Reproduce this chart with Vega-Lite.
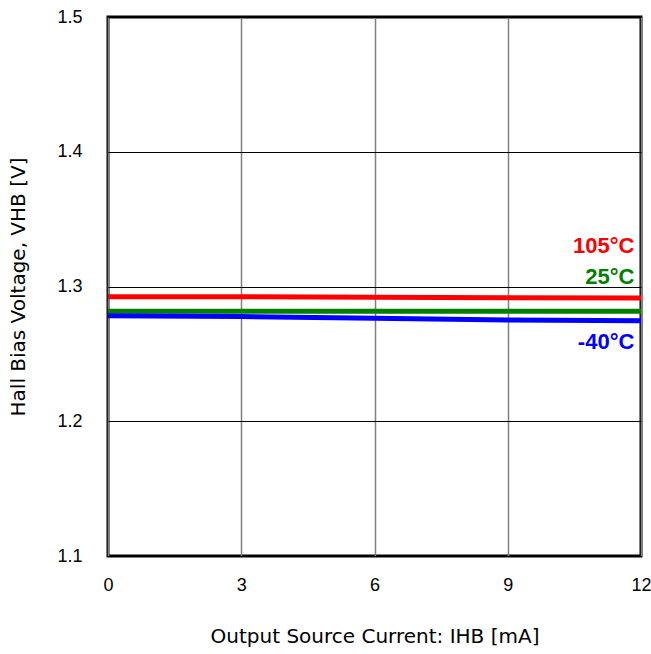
{
  "$schema": "https://vega.github.io/schema/vega-lite/v6.json",
  "autosize": "none",
  "padding": {"left": 108, "top": 17, "right": 10, "bottom": 98},
  "width": 533,
  "height": 539,
  "background": "white",
  "datasets": {
    "curves": [
      {"current": 0, "voltage": 1.2924, "temp": "105°C"},
      {"current": 3, "voltage": 1.2924, "temp": "105°C"},
      {"current": 6, "voltage": 1.2920, "temp": "105°C"},
      {"current": 9, "voltage": 1.2916, "temp": "105°C"},
      {"current": 12, "voltage": 1.2915, "temp": "105°C"},
      {"current": 0, "voltage": 1.2817, "temp": "25°C"},
      {"current": 3, "voltage": 1.2817, "temp": "25°C"},
      {"current": 6, "voltage": 1.2816, "temp": "25°C"},
      {"current": 9, "voltage": 1.2816, "temp": "25°C"},
      {"current": 12, "voltage": 1.2816, "temp": "25°C"},
      {"current": 0, "voltage": 1.2783, "temp": "-40°C"},
      {"current": 3, "voltage": 1.2777, "temp": "-40°C"},
      {"current": 6, "voltage": 1.2764, "temp": "-40°C"},
      {"current": 9, "voltage": 1.2751, "temp": "-40°C"},
      {"current": 12, "voltage": 1.2746, "temp": "-40°C"}
    ],
    "labels": [
      {"current": 11.85, "voltage": 1.330, "temp": "105°C"},
      {"current": 11.85, "voltage": 1.307, "temp": "25°C"},
      {"current": 11.85, "voltage": 1.259, "temp": "-40°C"}
    ]
  },
  "layer": [
    {
      "data": {"name": "curves"},
      "mark": {"type": "line", "strokeWidth": 5, "clip": true},
      "encoding": {
        "x": {
          "field": "current",
          "type": "quantitative",
          "scale": {"domain": [0, 12], "nice": false},
          "axis": {
            "values": [0, 3, 6, 9, 12],
            "title": "Output Source Current: IHB [mA]",
            "titleFont": "DejaVu Sans",
            "titleFontWeight": "normal",
            "titleFontSize": 20,
            "titleColor": "black",
            "titlePadding": 32,
            "labelFont": "Liberation Sans",
            "labelFontSize": 18,
            "labelColor": "black",
            "labelPadding": 20,
            "labelFlush": false,
            "tickSize": 0,
            "domain": false,
            "gridColor": "#808080",
            "gridWidth": 1.5,
            "gridOpacity": 1
          }
        },
        "y": {
          "field": "voltage",
          "type": "quantitative",
          "scale": {"domain": [1.1, 1.5], "nice": false, "zero": false},
          "axis": {
            "values": [1.1, 1.2, 1.3, 1.4, 1.5],
            "format": ".1f",
            "title": "Hall Bias Voltage, VHB [V]",
            "titleFont": "DejaVu Sans",
            "titleFontWeight": "normal",
            "titleFontSize": 20,
            "titleColor": "black",
            "titlePadding": 28,
            "labelFont": "Liberation Sans",
            "labelFontSize": 18,
            "labelColor": "black",
            "labelPadding": 26,
            "labelFlush": false,
            "tickSize": 0,
            "domain": false,
            "gridColor": "black",
            "gridWidth": 1,
            "gridOpacity": 1
          }
        },
        "color": {
          "field": "temp",
          "type": "nominal",
          "scale": {"domain": ["105°C", "25°C", "-40°C"], "range": ["#ff0000", "#008000", "#0000ff"]},
          "legend": null
        },
        "order": {"field": "current", "type": "quantitative"}
      }
    },
    {
      "data": {"name": "labels"},
      "mark": {"type": "text", "align": "right", "baseline": "middle", "font": "Liberation Sans", "fontWeight": "bold", "fontSize": 22},
      "encoding": {
        "x": {"field": "current", "type": "quantitative"},
        "y": {"field": "voltage", "type": "quantitative"},
        "text": {"field": "temp"},
        "color": {"field": "temp", "type": "nominal", "legend": null}
      }
    }
  ],
  "config": {
    "view": {"stroke": "black", "strokeWidth": 3}
  }
}
